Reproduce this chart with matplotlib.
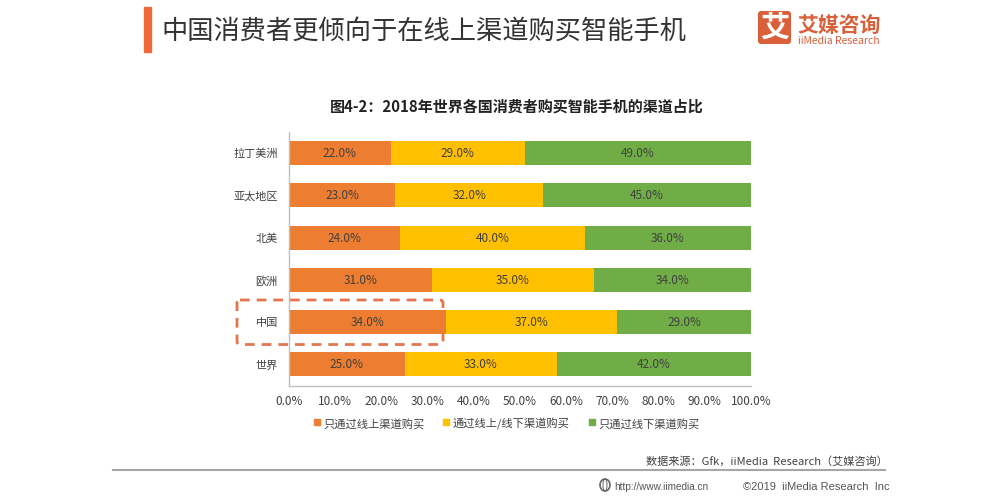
import matplotlib
matplotlib.use('Agg')
import matplotlib.pyplot as plt
from matplotlib.patches import Rectangle, FancyBboxPatch, Ellipse
from matplotlib.transforms import ScaledTranslation
import numpy as np

plt.rcParams['font.family'] = ['Noto Sans CJK SC', 'DejaVu Sans']

# data, top to bottom
regions = ['拉丁美洲', '亚太地区', '北美', '欧洲', '中国', '世界']
online = [22.0, 23.0, 24.0, 31.0, 34.0, 25.0]
both = [29.0, 32.0, 40.0, 35.0, 37.0, 33.0]
offline = [49.0, 45.0, 36.0, 34.0, 29.0, 42.0]
series_names = ['只通过线上渠道购买', '通过线上/线下渠道购买', '只通过线下渠道购买']
colors = ['#ED7D31', '#FFC000', '#70AD47']
xticks = [0, 10, 20, 30, 40, 50, 60, 70, 80, 90, 100]

W, H = 990, 502
fig = plt.figure(figsize=(W / 100, H / 100), dpi=100)

# overlay in pixel coords for title, logo, footer
bg = fig.add_axes([0, 0, 1, 1])
bg.set_xlim(0, W)
bg.set_ylim(H, 0)
bg.axis('off')

# dashed highlight round 中国, goes under the bars
bg.add_patch(FancyBboxPatch((237, 301), 206, 44.5, boxstyle='round,pad=0,rounding_size=3',
                            fill=False, ec='#E5754F', lw=2, ls=(0, (3.5, 2.5))))

# chart axes
left, right, top, bottom = 289, 751, 133, 386.5
ax = fig.add_axes([left / W, 1 - bottom / H, (right - left) / W, (bottom - top) / H])
ax.patch.set_alpha(0)
y = np.arange(len(regions))
starts = np.zeros(len(regions))
for vals, name, c in zip([online, both, offline], series_names, colors):
    vals = np.array(vals)
    ax.barh(y, vals, left=starts, height=0.57, color=c, label=name)
    for yi, s, v in zip(y, starts, vals):
        ax.text(s + v / 2, yi - 0.01, f'{v:.1f}%', ha='center', va='center',
                fontsize=8.5, color='#404040')
    starts = starts + vals

ax.set_xlim(0, 100)
ax.set_ylim(len(regions) - 0.5, -0.5)
ax.set_yticks(y)
ax.set_yticklabels(regions, fontsize=8, color='#404040')
ax.set_xticks(xticks)
ax.set_xticklabels([f'{t:.1f}%' for t in xticks], fontsize=8.5, color='#404040')
ax.tick_params(axis='both', length=0)
ax.tick_params(axis='x', pad=6)
ax.tick_params(axis='y', pad=8)
for lab in ax.get_yticklabels():
    lab.set_transform(lab.get_transform() + ScaledTranslation(0, 1 / 100, fig.dpi_scale_trans))
for s in ['top', 'right']:
    ax.spines[s].set_visible(False)
for s in ['left', 'bottom']:
    ax.spines[s].set_color('#BFBFBF')
    ax.spines[s].set_linewidth(1)

# legend drawn by hand so it sits where the original does
top_ax = fig.add_axes([0, 0, 1, 1])
top_ax.set_xlim(0, W)
top_ax.set_ylim(H, 0)
top_ax.axis('off')
top_ax.patch.set_alpha(0)

for lx, name, c in zip([314, 443, 589], series_names, colors):
    top_ax.add_patch(Rectangle((lx, 420), 6, 6, color=c))
    top_ax.text(lx + 9.5, 428, name, fontsize=8.1, color='#404040', va='baseline')

# header
bg.add_patch(Rectangle((144, 8), 7, 45, color='#F0673A'))
bg.text(161, 31, '中国消费者更倾向于在线上渠道购买智能手机', fontsize=18.9, color='#333333', va='center')

# logo
bg.add_patch(FancyBboxPatch((758, 12), 33, 33, boxstyle='round,pad=0,rounding_size=3',
                            fc='#D9603B', ec='none'))
bg.text(774.5, 28, '艾', fontsize=21, color='white', ha='center', va='center', fontweight='bold')
bg.text(797, 25, '艾媒咨询', fontsize=15, color='#D9603B', va='center', fontweight='bold')
bg.text(798, 41, 'iiMedia Research', fontsize=7.5, color='#D9603B', va='center')

bg.text(516.5, 107, '图4-2：2018年世界各国消费者购买智能手机的渠道占比', fontsize=10.8, color='#222222',
        ha='center', va='center', fontweight='bold')

# footer
bg.text(888, 461, '数据来源：Gfk，iiMedia  Research（艾媒咨询）', fontsize=8, color='#404040',
        ha='right', va='center')
bg.plot([113, 885], [471, 471], color='#A6A6A6', lw=1.5)
bg.add_patch(Ellipse((605, 486), 10, 12, fill=False, ec='#666666', lw=1.2))
bg.add_patch(Ellipse((605, 486), 4, 12, fill=False, ec='#666666', lw=0.7))
bg.text(614, 487, 'http://www.iimedia.cn', fontsize=7.2, color='#555555', va='center',
        family='Liberation Sans')
bg.text(890, 487, '©2019  iiMedia Research  Inc', fontsize=8, color='#555555', va='center', ha='right',
        family='Liberation Sans')

fig.savefig('out.png', dpi=100)
